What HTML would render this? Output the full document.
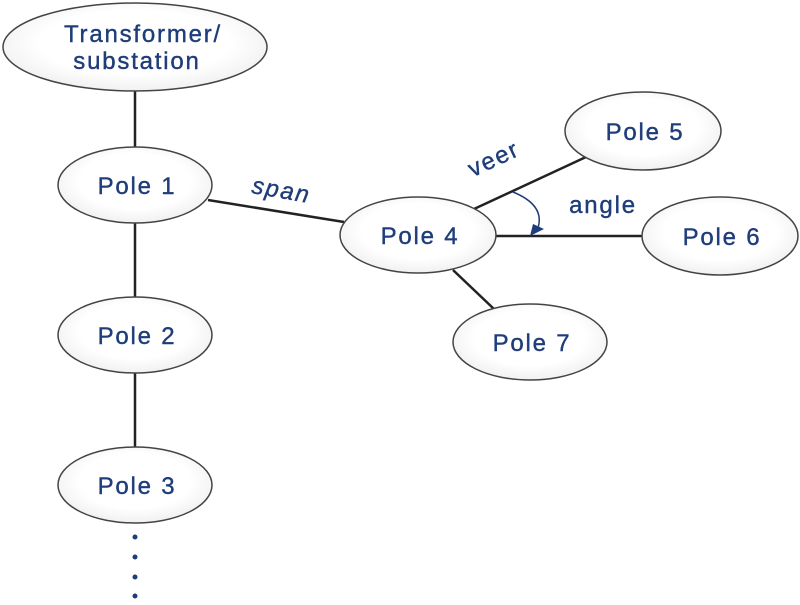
<!DOCTYPE html>
<html><head><style>body{margin:0;background:#fff}</style></head><body>
<svg width="800" height="600" viewBox="0 0 800 600" xmlns="http://www.w3.org/2000/svg">
<defs>
<radialGradient id="g" cx="0.5" cy="0.45" r="0.6"><stop offset="0.6" stop-color="#ffffff"/><stop offset="1" stop-color="#ededed"/></radialGradient>
</defs>
<g stroke="#222" stroke-width="2.5">
<line x1="135" y1="90" x2="135" y2="150"/>
<line x1="135" y1="222" x2="135" y2="300"/>
<line x1="135" y1="372" x2="135" y2="450"/>
<line x1="208" y1="200" x2="344" y2="222"/>
<line x1="474" y1="209" x2="586" y2="157"/>
<line x1="494" y1="236" x2="643" y2="236"/>
<line x1="453" y1="270" x2="494" y2="309"/>
</g>
<path d="M513 192 Q545 205 538 228" fill="none" stroke="#1f3d7a" stroke-width="1.5"/>
<polygon points="530,236 533,224 544,229" fill="#1f3d7a"/>
<g fill="url(#g)" stroke="#444" stroke-width="1.5">
<ellipse cx="135" cy="47" rx="132" ry="44"/>
<ellipse cx="135" cy="185" rx="77" ry="38"/>
<ellipse cx="135" cy="335" rx="77" ry="38"/>
<ellipse cx="135" cy="485" rx="77" ry="38"/>
<ellipse cx="418" cy="235" rx="78" ry="38"/>
<ellipse cx="643" cy="131" rx="78" ry="39"/>
<ellipse cx="720" cy="236" rx="78" ry="39"/>
<ellipse cx="530" cy="342" rx="77" ry="38"/>
</g>
<g fill="#1f3d7a" stroke="#1f3d7a" stroke-width="0.4" font-family="Liberation Sans, sans-serif" font-size="24" text-anchor="middle" letter-spacing="1.8">
<text x="143" y="42">Transformer/</text>
<text x="137" y="69">substation</text>
<text x="137" y="194">Pole 1</text>
<text x="137" y="344">Pole 2</text>
<text x="137" y="494">Pole 3</text>
<text x="420" y="244">Pole 4</text>
<text x="645" y="140">Pole 5</text>
<text x="722" y="245">Pole 6</text>
<text x="532" y="351">Pole 7</text>
<text x="603" y="213">angle</text>
<text x="0" y="0" font-style="italic" transform="translate(280,198) rotate(10)">span</text>
<text x="0" y="0" transform="translate(497,166) rotate(-25)">veer</text>
</g>
<g fill="#1f3d7a">
<circle cx="135" cy="537" r="2.5"/><circle cx="135" cy="557" r="2.5"/><circle cx="135" cy="577" r="2.5"/><circle cx="135" cy="596" r="2.5"/>
</g>
</svg>
</body></html>
